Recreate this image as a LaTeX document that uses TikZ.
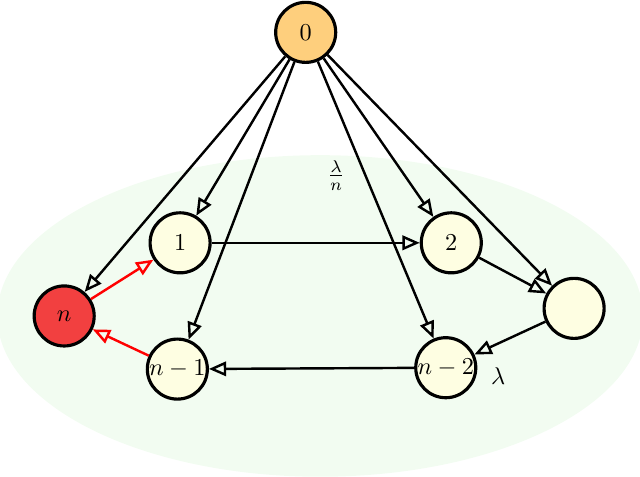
\documentclass[tikz,border=0pt]{standalone}
\usetikzlibrary{arrows.meta}
\definecolor{zero}{RGB}{254,207,125}
\definecolor{kill}{RGB}{242,64,64}
\definecolor{state}{RGB}{254,254,226}
\definecolor{cloud}{RGB}{242,252,241}
\tikzset{
	zust/.style={circle,draw,line width=1.3pt,fill=state,minimum size=0.87cm,inner sep=0pt},
	pf/.style={-{Triangle[open,length=2.5mm,width=2.1mm]},line width=1pt},
	rpf/.style={pf,red}
}
\begin{document}
\begin{tikzpicture}
	\useasboundingbox (0,0) rectangle (9.275,6.899);
	%\draw[step=0.5,gray!30] (0,0) grid (9.5,7); %Hilfsgitter
	\fill[cloud] (4.64,2.32) ellipse (4.68 and 2.33);
	
	\node[zust,fill=zero] (0) at (4.43,6.43) {$0$};
	\node[zust] (1) at (2.61,3.38) {$1$}; \node[zust] (2) at (6.54,3.38) {$2$};
	\node[zust] (d) at (8.32,2.43) {};
	\node[zust] (n2) at (6.46,1.57) {$n-2$}; \node[zust] (n1) at (2.57,1.55) {$n-1$};
	\node[zust,fill=kill] (n) at (0.93,2.32) {$n$};
	
	\foreach \z in {n,1,n1,n2,2,d} \draw[pf] (0) -- (\z);
	\draw[pf] (1) -- (2); \draw[pf] (2) -- (d); \draw[pf] (d) -- (n2); \draw[pf] (n2) -- (n1);
	\draw[rpf] (n1) -- (n); \draw[rpf] (n) -- (1);
	
	\node (lan) at (4.87,4.36) {$\frac{\lambda}{n}$}; \node (la) at (7.22,1.45) {$\lambda$};
\end{tikzpicture}
\end{document}
